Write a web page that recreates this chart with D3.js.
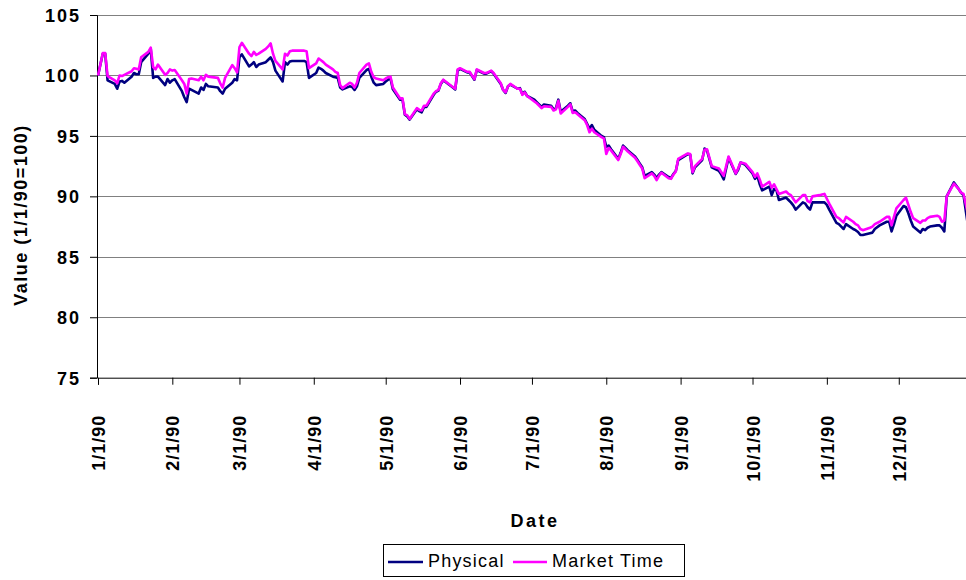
<!DOCTYPE html>
<html>
<head>
<meta charset="utf-8">
<script src="https://cdn.jsdelivr.net/npm/d3@7/dist/d3.min.js"></script>
<style>
  html, body { margin: 0; padding: 0; background: #fff; }
  svg { display: block; }
  text { font-family: "Liberation Sans", Arial, sans-serif; fill: #000; }
</style>
</head>
<body>
<svg id="chart" width="966" height="580"></svg>
<script>
// Trading dates, 1990
const dates = [
  "1990-01-01","1990-01-02","1990-01-03","1990-01-04","1990-01-05","1990-01-08","1990-01-09","1990-01-10","1990-01-11","1990-01-12",
  "1990-01-15","1990-01-16","1990-01-17","1990-01-18","1990-01-19","1990-01-22","1990-01-23","1990-01-24","1990-01-25","1990-01-26",
  "1990-01-29","1990-01-30","1990-01-31","1990-02-01","1990-02-02","1990-02-05","1990-02-06","1990-02-07","1990-02-08","1990-02-09",
  "1990-02-12","1990-02-13","1990-02-14","1990-02-15","1990-02-16","1990-02-20","1990-02-21","1990-02-22","1990-02-23","1990-02-26",
  "1990-02-27","1990-02-28","1990-03-01","1990-03-02","1990-03-05","1990-03-06","1990-03-07","1990-03-08","1990-03-09","1990-03-12",
  "1990-03-13","1990-03-14","1990-03-15","1990-03-16","1990-03-19","1990-03-20","1990-03-21","1990-03-22","1990-03-23","1990-03-26",
  "1990-03-27","1990-03-28","1990-03-29","1990-03-30","1990-04-02","1990-04-03","1990-04-04","1990-04-05","1990-04-06","1990-04-09",
  "1990-04-10","1990-04-11","1990-04-12","1990-04-13","1990-04-16","1990-04-17","1990-04-18","1990-04-19","1990-04-20","1990-04-23",
  "1990-04-24","1990-04-25","1990-04-26","1990-04-27","1990-04-30","1990-05-01","1990-05-02","1990-05-03","1990-05-04","1990-05-07",
  "1990-05-08","1990-05-09","1990-05-10","1990-05-11","1990-05-14","1990-05-15","1990-05-16","1990-05-17","1990-05-18","1990-05-21",
  "1990-05-22","1990-05-23","1990-05-24","1990-05-25","1990-05-29","1990-05-30","1990-05-31","1990-06-01","1990-06-04","1990-06-05",
  "1990-06-06","1990-06-07","1990-06-08","1990-06-11","1990-06-12","1990-06-13","1990-06-14","1990-06-15","1990-06-18","1990-06-19",
  "1990-06-20","1990-06-21","1990-06-22","1990-06-25","1990-06-26","1990-06-27","1990-06-28","1990-06-29","1990-07-02","1990-07-03",
  "1990-07-05","1990-07-06","1990-07-09","1990-07-10","1990-07-11","1990-07-12","1990-07-13","1990-07-16","1990-07-17","1990-07-18",
  "1990-07-19","1990-07-20","1990-07-23","1990-07-24","1990-07-25","1990-07-26","1990-07-27","1990-07-30","1990-07-31","1990-08-01",
  "1990-08-02","1990-08-03","1990-08-06","1990-08-07","1990-08-08","1990-08-09","1990-08-10","1990-08-13","1990-08-14","1990-08-15",
  "1990-08-16","1990-08-17","1990-08-20","1990-08-21","1990-08-22","1990-08-23","1990-08-24","1990-08-27","1990-08-28","1990-08-29",
  "1990-08-30","1990-08-31","1990-09-04","1990-09-05","1990-09-06","1990-09-07","1990-09-10","1990-09-11","1990-09-12","1990-09-13",
  "1990-09-14","1990-09-17","1990-09-18","1990-09-19","1990-09-20","1990-09-21","1990-09-24","1990-09-25","1990-09-26","1990-09-27",
  "1990-09-28","1990-10-01","1990-10-02","1990-10-03","1990-10-04","1990-10-05","1990-10-08","1990-10-09","1990-10-10","1990-10-11",
  "1990-10-12","1990-10-15","1990-10-16","1990-10-17","1990-10-18","1990-10-19","1990-10-22","1990-10-23","1990-10-24","1990-10-25",
  "1990-10-26","1990-10-29","1990-10-30","1990-10-31","1990-11-01","1990-11-02","1990-11-05","1990-11-06","1990-11-07","1990-11-08",
  "1990-11-09","1990-11-12","1990-11-13","1990-11-14","1990-11-15","1990-11-16","1990-11-19","1990-11-20","1990-11-21","1990-11-23",
  "1990-11-26","1990-11-27","1990-11-28","1990-11-29","1990-11-30","1990-12-03","1990-12-04","1990-12-05","1990-12-06","1990-12-07",
  "1990-12-10","1990-12-11","1990-12-12","1990-12-13","1990-12-14","1990-12-17","1990-12-18","1990-12-19","1990-12-20","1990-12-21",
  "1990-12-24","1990-12-26","1990-12-27","1990-12-28","1990-12-31"
];

// Index value measured in physical (calendar) time
const physical = [
  100.0,100.9,101.8,101.8,99.6,99.3,98.9,99.5,99.55,99.4,
  99.9,100.2,100.1,100.1,101.1,101.8,102.2,99.8,99.9,99.9,
  99.2,99.7,99.4,99.6,99.7,98.7,98.2,97.8,98.9,98.8,
  98.5,99.0,98.8,99.3,99.1,99.0,98.7,98.5,98.9,99.4,
  99.7,99.6,101.5,101.75,100.75,100.9,101.1,100.7,100.9,101.1,
  101.3,101.5,101.1,100.4,99.5,101.1,100.9,101.15,101.2,101.2,
  101.2,101.2,101.1,99.8,100.2,100.65,100.55,100.4,100.2,99.9,
  99.85,99.8,99.0,98.85,99.1,99.05,98.8,99.1,99.8,100.45,
  100.55,99.9,99.4,99.2,99.3,99.5,99.65,99.75,98.85,98.0,
  98.0,96.75,96.6,96.35,97.2,97.05,96.95,97.4,97.4,98.4,
  98.65,98.75,99.3,99.6,99.0,98.85,100.4,100.55,100.25,100.25,
  99.95,99.65,100.45,100.15,100.15,100.25,100.35,100.15,99.3,98.8,
  98.55,99.1,99.25,98.9,98.95,98.45,98.65,98.3,98.0,97.8,
  97.4,97.6,97.5,97.2,97.3,98.0,97.0,97.5,97.7,97.0,
  97.1,96.9,96.4,96.0,95.6,95.9,95.5,95.0,94.9,94.1,
  94.2,93.9,93.1,93.6,94.2,94.0,93.8,93.3,93.0,92.7,
  92.4,91.7,92.0,91.8,91.5,91.8,92.0,91.6,91.5,91.85,
  92.1,93.0,93.5,93.45,91.9,92.4,93.0,93.95,93.8,93.1,
  92.4,92.1,91.8,91.4,92.3,93.2,91.85,92.2,92.8,92.7,
  92.6,91.9,91.45,91.7,91.0,90.5,90.8,90.1,90.6,90.5,
  89.7,89.9,89.7,89.5,89.25,88.9,89.5,89.4,89.1,88.9,
  89.5,89.5,89.5,89.5,89.3,88.9,87.8,87.7,87.5,87.3,
  87.7,87.3,87.2,87.05,86.8,86.8,86.95,87.0,87.3,87.6,
  87.9,87.9,87.1,87.7,88.4,89.2,89.1,88.6,88.0,87.5,
  87.0,87.3,87.2,87.4,87.5,87.6,87.6,87.4,87.1,90.0,
  91.15,90.6,90.3,90.1,86.0
];

// Index value measured in market (trading) time
const marketTime = [
  100.0,100.9,101.85,101.85,99.95,99.6,99.35,100.0,99.95,100.05,
  100.35,100.6,100.55,100.5,101.5,101.95,102.3,100.7,100.5,100.9,
  100.05,100.2,100.5,100.4,100.45,99.6,99.3,98.5,99.7,99.75,
  99.6,99.9,99.6,100.05,99.9,99.8,99.35,99.0,99.8,100.85,
  100.6,100.25,102.35,102.7,101.8,101.6,101.95,101.7,101.8,102.2,
  102.4,102.65,101.8,101.2,100.5,101.8,101.65,102.0,102.05,102.05,
  102.05,102.05,102.0,100.6,101.0,101.4,101.25,101.1,100.9,100.5,
  100.3,100.2,99.2,98.95,99.4,99.3,99.0,99.4,100.2,100.9,
  101.0,100.3,99.85,99.75,99.6,99.75,99.85,99.9,99.0,98.1,
  98.1,96.8,96.7,96.4,97.3,97.15,97.1,97.5,97.5,98.5,
  98.7,98.8,99.35,99.65,99.05,98.9,100.5,100.6,100.3,100.3,
  100.0,99.7,100.5,100.2,100.2,100.3,100.4,100.2,99.35,98.8,
  98.6,99.1,99.3,98.9,98.9,98.4,98.6,98.3,97.85,97.7,
  97.3,97.45,97.4,97.1,97.2,97.9,96.85,97.4,97.6,96.9,
  96.95,96.8,96.3,95.9,95.3,95.6,95.3,94.9,94.8,93.5,
  94.0,93.8,93.0,93.5,94.1,93.9,93.7,93.2,92.9,92.6,
  92.3,91.5,91.9,91.7,91.35,91.7,91.95,91.5,91.45,91.8,
  92.05,93.1,93.55,93.5,92.0,92.5,93.1,93.85,93.9,93.2,
  92.5,92.3,92.0,91.7,92.5,93.3,91.9,92.3,92.8,92.75,
  92.7,92.0,91.6,91.9,91.4,90.8,91.2,90.7,91.0,90.6,
  90.2,90.4,90.2,90.1,89.8,89.5,90.1,90.1,89.6,89.5,
  90.0,90.1,90.15,90.2,89.8,89.4,88.3,88.2,88.0,87.85,
  88.3,87.9,87.7,87.6,87.3,87.2,87.4,87.5,87.7,87.9,
  88.3,88.3,87.6,88.3,89.0,89.7,89.9,89.3,88.7,88.2,
  87.8,88.0,88.0,88.2,88.3,88.4,88.3,87.9,88.0,90.0,
  91.05,90.6,90.3,90.2,87.5
];

const monthTicks = ["1990-01-01","1990-02-01","1990-03-01","1990-04-01","1990-05-01","1990-06-01",
                    "1990-07-01","1990-08-01","1990-09-01","1990-10-01","1990-11-01","1990-12-01"];
const valueTicks = [75, 80, 85, 90, 95, 100, 105];
const seriesNames = ["Physical", "Market Time"];
const seriesColors = ["#000080", "#FF00FF"];

const parse = d3.utcParse("%Y-%m-%d");
const fmt = d3.utcFormat("%-m/%-d/%y");

const svg = d3.select("#chart");

const plot = { left: 97, top: 15, bottom: 377.7 };

const x = d3.scaleUtc()
  .domain([parse("1990-01-01"), parse("1990-12-31")])
  .range([98, 970.7]);

const y = d3.scaleLinear()
  .domain([75, 105])
  .range([plot.bottom, plot.top]);

// horizontal gridlines
svg.append("g")
  .selectAll("line")
  .data(valueTicks.filter(v => v > 75))
  .join("line")
  .attr("x1", plot.left).attr("x2", x.range()[1])
  .attr("y1", d => Math.round(y(d)) + 0.5).attr("y2", d => Math.round(y(d)) + 0.5)
  .attr("stroke", "#808080").attr("stroke-width", 1);

// y axis
const yAxis = svg.append("g")
  .attr("transform", `translate(${plot.left},0)`)
  .call(d3.axisLeft(y).tickValues(valueTicks).tickSize(7).tickPadding(9).tickFormat(d3.format("d")));
yAxis.select(".domain").attr("stroke", "#000");
yAxis.selectAll(".tick line").attr("stroke", "#000");
yAxis.selectAll(".tick text")
  .style("font-family", '"Liberation Sans", Arial, sans-serif')
  .style("font-size", "18px").style("font-weight", "bold").style("letter-spacing", "2px")
  .attr("dy", "0.36em");

// x axis
const xAxis = svg.append("g")
  .attr("transform", `translate(0,${plot.bottom})`)
  .call(d3.axisBottom(x).tickValues(monthTicks.map(parse)).tickSize(7).tickFormat(fmt));
xAxis.select(".domain").attr("stroke", "#000");
xAxis.selectAll(".tick line").attr("stroke", "#000");
xAxis.selectAll(".tick text")
  .style("font-family", '"Liberation Sans", Arial, sans-serif')
  .style("font-size", "18px").style("font-weight", "bold").style("letter-spacing", "1px")
  .attr("text-anchor", "end")
  .attr("transform", "translate(6.5,37) rotate(-90)")
  .attr("x", 0).attr("y", 0).attr("dy", 0);

// axis titles
svg.append("text")
  .attr("x", 535).attr("y", 527)
  .attr("text-anchor", "middle")
  .style("font-size", "18px").style("font-weight", "bold").style("letter-spacing", "2.5px")
  .text("Date");

svg.append("text")
  .attr("transform", "translate(27,215) rotate(-90)")
  .attr("text-anchor", "middle")
  .style("font-size", "18px").style("font-weight", "bold").style("letter-spacing", "1.5px")
  .text("Value (1/1/90=100)");

// series lines
const rows = dates.map((d, i) => ({ date: parse(d), values: [physical[i], marketTime[i]] }));
const clip = svg.append("clipPath").attr("id", "plotClip")
  .append("rect").attr("x", plot.left).attr("y", 0).attr("width", 900).attr("height", plot.bottom);

[0, 1].forEach(k => {
  const line = d3.line()
    .x(d => x(d.date))
    .y(d => y(d.values[k]));
  svg.append("path")
    .datum(rows)
    .attr("clip-path", "url(#plotClip)")
    .attr("fill", "none")
    .attr("stroke", seriesColors[k])
    .attr("stroke-width", 2.6)
    .attr("stroke-linejoin", "round")
    .attr("d", line);
});

// legend
const legend = svg.append("g");
legend.append("rect")
  .attr("x", 383.5).attr("y", 544.5).attr("width", 301).attr("height", 32)
  .attr("fill", "#fff").attr("stroke", "#000").attr("stroke-width", 1);
const legendItems = [
  { x1: 388, x2: 423, tx: 428 },
  { x1: 513, x2: 547, tx: 552 }
];
legendItems.forEach((it, k) => {
  legend.append("line")
    .attr("x1", it.x1).attr("x2", it.x2).attr("y1", 562).attr("y2", 562)
    .attr("stroke", seriesColors[k]).attr("stroke-width", 2.6);
  legend.append("text")
    .attr("x", it.tx).attr("y", 567)
    .style("font-size", "18px").style("letter-spacing", "1.2px")
    .text(seriesNames[k]);
});
</script>
</body>
</html>
